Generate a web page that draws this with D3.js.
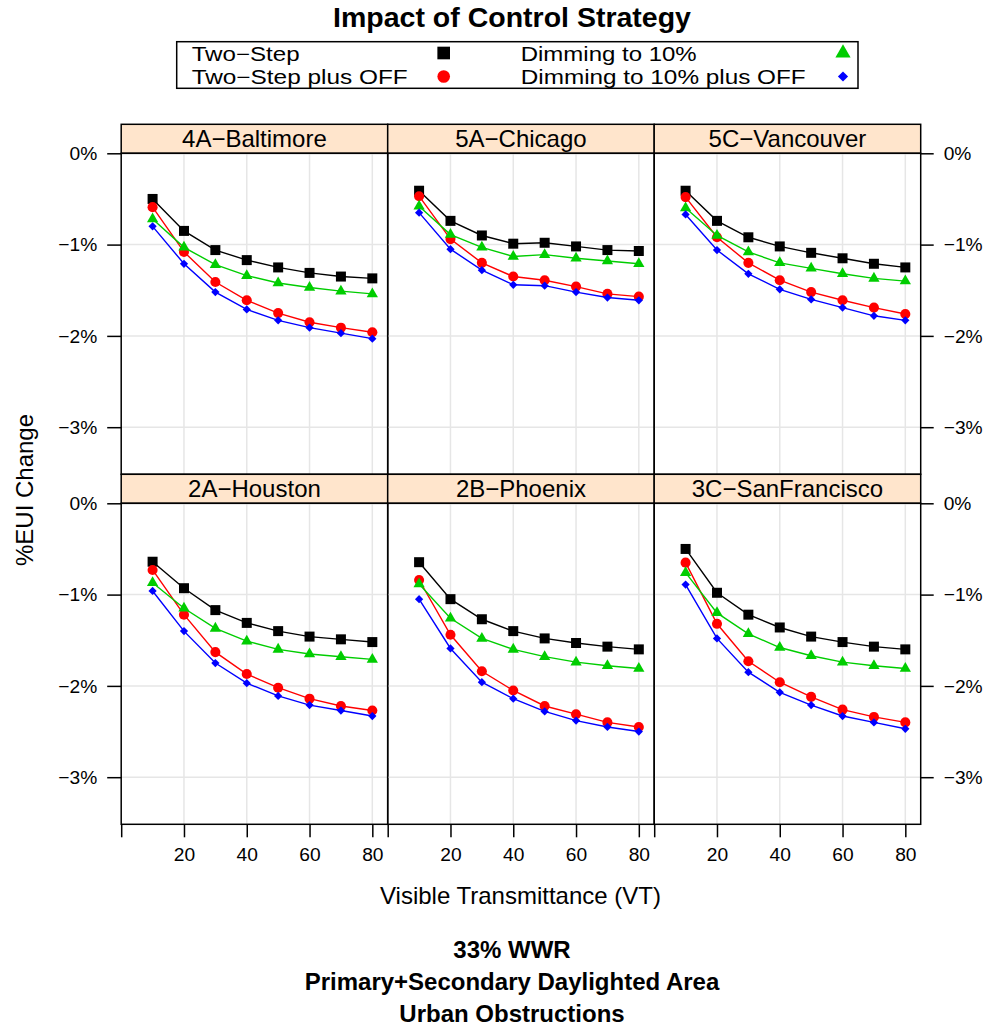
<!DOCTYPE html>
<html>
<head>
<meta charset="utf-8">
<script src="https://cdn.jsdelivr.net/npm/d3@7"></script>
<style>
  html, body { margin: 0; padding: 0; background: #fff; }
  svg { display: block; font-family: "Liberation Sans", Arial, Helvetica, sans-serif; }
</style>
</head>
<body>
<svg id="chart" width="988" height="1026"></svg>
<script>
// Visible transmittance levels (x axis)
const vt = [10, 20, 30, 40, 50, 60, 70, 80];
const xTicks = [0, 20, 40, 60, 80];
const yTicks = [0, -1, -2, -3];

// Climate zones / locations, in panel order (top row then bottom row)
const locations = ["4A\u2212Baltimore", "5A\u2212Chicago", "5C\u2212Vancouver",
                   "2A\u2212Houston", "2B\u2212Phoenix", "3C\u2212SanFrancisco"];

// Control strategies (legend order)
const strategies = ["Two\u2212Step", "Two\u2212Step plus OFF", "Dimming to 10%", "Dimming to 10% plus OFF"];

// % EUI change per location, one row per location, one value per VT level
const twoStep = [
  [-0.50, -0.85, -1.06, -1.17, -1.25, -1.31, -1.35, -1.37],
  [-0.41, -0.74, -0.90, -0.99, -0.98, -1.02, -1.06, -1.07],
  [-0.41, -0.74, -0.92, -1.02, -1.09, -1.15, -1.21, -1.25],
  [-0.64, -0.93, -1.17, -1.31, -1.40, -1.46, -1.49, -1.52],
  [-0.645, -1.05, -1.27, -1.40, -1.48, -1.53, -1.57, -1.60],
  [-0.50, -0.98, -1.22, -1.36, -1.46, -1.52, -1.57, -1.60]
];
const twoStepOff = [
  [-0.59, -1.08, -1.41, -1.61, -1.75, -1.85, -1.91, -1.96],
  [-0.47, -0.94, -1.20, -1.35, -1.39, -1.46, -1.54, -1.57],
  [-0.48, -0.92, -1.20, -1.39, -1.52, -1.61, -1.69, -1.76],
  [-0.73, -1.22, -1.63, -1.87, -2.02, -2.14, -2.22, -2.27],
  [-0.84, -1.44, -1.84, -2.05, -2.22, -2.31, -2.40, -2.45],
  [-0.65, -1.32, -1.73, -1.96, -2.12, -2.26, -2.34, -2.40]
];
const dimming = [
  [-0.72, -1.03, -1.22, -1.34, -1.42, -1.47, -1.51, -1.54],
  [-0.58, -0.89, -1.03, -1.13, -1.11, -1.15, -1.18, -1.21],
  [-0.60, -0.90, -1.08, -1.20, -1.26, -1.32, -1.37, -1.40],
  [-0.87, -1.15, -1.37, -1.51, -1.60, -1.65, -1.68, -1.71],
  [-0.885, -1.26, -1.48, -1.60, -1.68, -1.74, -1.78, -1.81],
  [-0.76, -1.20, -1.43, -1.58, -1.67, -1.74, -1.78, -1.81]
];
const dimmingOff = [
  [-0.80, -1.21, -1.52, -1.71, -1.83, -1.91, -1.97, -2.03],
  [-0.65, -1.05, -1.28, -1.44, -1.45, -1.52, -1.58, -1.61],
  [-0.67, -1.06, -1.32, -1.49, -1.60, -1.69, -1.78, -1.83],
  [-0.96, -1.40, -1.75, -1.97, -2.11, -2.21, -2.27, -2.33],
  [-1.05, -1.59, -1.96, -2.14, -2.28, -2.38, -2.45, -2.50],
  [-0.89, -1.48, -1.85, -2.07, -2.21, -2.33, -2.40, -2.47]
];

const seriesValues = [twoStep, twoStepOff, dimming, dimmingOff];
const seriesColors = ["#000000", "#ff0000", "#00cd00", "#0000ff"];

// ---- layout ----
const svg = d3.select("#chart");
const cols = 3, rows = 2;
const left = 121.2, panelW = 266.5;
const top0 = 124.3, stripH = 29, panelH = 321;
const font = "Liberation Sans, Arial, sans-serif";

const x = d3.scaleLinear().domain([0, 84.9]).range([0, panelW]);
const y = d3.scaleLinear().domain([0, -3.516]).range([0, panelH]);

// symbol generators: square, circle, triangle, diamond
const symbolTypes = [d3.symbolSquare, d3.symbolCircle, d3.symbolTriangle, d3.symbolSquare];
const panelSizes = [100, 80, 55, 34];
const keySizes = [160, 125, 100, 52];
function symbolPath(i, size) {
  return d3.symbol().type(symbolTypes[i]).size(size)();
}
function symbolTransform(i, px, py) {
  return `translate(${px},${py})` + (i === 3 ? " rotate(45)" : "");
}

const fmtPct = d => (d < 0 ? "\u2212" + Math.abs(d) : d) + "%";

locations.forEach((loc, p) => {
  const c = p % cols, r = Math.floor(p / cols);
  const px = left + c * panelW;
  const stripTop = top0 + r * (stripH + panelH);
  const py = stripTop + stripH;

  // strip
  svg.append("rect")
    .attr("x", px).attr("y", stripTop).attr("width", panelW).attr("height", stripH)
    .attr("fill", "#ffe5cc").attr("stroke", "#000").attr("stroke-width", 1.5);
  svg.append("text")
    .attr("x", px + panelW / 2).attr("y", stripTop + 23)
    .attr("text-anchor", "middle").attr("font-size", 24).attr("fill", "#000")
    .text(loc);

  const g = svg.append("g").attr("transform", `translate(${px},${py})`);

  // reference grid
  g.selectAll("line.vg").data(xTicks.slice(1)).join("line")
    .attr("x1", d => x(d)).attr("x2", d => x(d)).attr("y1", 0).attr("y2", panelH)
    .attr("stroke", "#e6e6e6").attr("stroke-width", 1.5);
  g.selectAll("line.hg").data(yTicks.slice(1)).join("line")
    .attr("x1", 0).attr("x2", panelW).attr("y1", d => y(d)).attr("y2", d => y(d))
    .attr("stroke", "#e6e6e6").attr("stroke-width", 1.5);

  // series: lines then points
  seriesValues.forEach((vals, s) => {
    const pts = vt.map((v, k) => [v, vals[p][k]]);
    g.append("path")
      .datum(pts)
      .attr("fill", "none").attr("stroke", seriesColors[s]).attr("stroke-width", 1.4)
      .attr("d", d3.line().x(d => x(d[0])).y(d => y(d[1])));
    g.selectAll(null).data(pts).join("path")
      .attr("d", symbolPath(s, panelSizes[s]))
      .attr("transform", d => symbolTransform(s, x(d[0]), y(d[1])))
      .attr("fill", seriesColors[s]);
  });

  // frame
  g.append("rect").attr("width", panelW).attr("height", panelH)
    .attr("fill", "none").attr("stroke", "#000").attr("stroke-width", 1.5);

  // left axis on first column
  if (c === 0) {
    const ax = g.append("g").call(d3.axisLeft(y).tickValues(yTicks).tickSize(14).tickPadding(10).tickFormat(fmtPct));
    ax.select(".domain").remove();
    ax.selectAll("line").attr("stroke-width", 1.5);
    ax.selectAll("text").attr("font-size", 19.2).attr("font-family", font).attr("fill", "#000");
  }
  // right axis on last column
  if (c === cols - 1) {
    const ax = g.append("g").attr("transform", `translate(${panelW},0)`)
      .call(d3.axisRight(y).tickValues(yTicks).tickSize(13).tickPadding(10).tickFormat(fmtPct));
    ax.select(".domain").remove();
    ax.selectAll("line").attr("stroke-width", 1.5);
    ax.selectAll("text").attr("font-size", 19.2).attr("font-family", font).attr("fill", "#000");
  }
  // bottom axis on bottom row
  if (r === rows - 1) {
    const ax = g.append("g").attr("transform", `translate(0,${panelH})`)
      .call(d3.axisBottom(x).tickValues(xTicks).tickSize(13).tickPadding(10)
        .tickFormat(d => d === 0 ? "" : d));
    ax.select(".domain").remove();
    ax.selectAll("line").attr("stroke-width", 1.5);
    ax.selectAll("text").attr("font-size", 19.2).attr("font-family", font).attr("fill", "#000");
  }
});

// ---- titles ----
svg.append("text").attr("x", 512).attr("y", 27).attr("text-anchor", "middle")
  .attr("font-size", 28.5).attr("font-weight", "bold").text("Impact of Control Strategy");

svg.append("text").attr("x", 520.5).attr("y", 904).attr("text-anchor", "middle")
  .attr("font-size", 24).text("Visible Transmittance (VT)");

svg.append("text").attr("transform", "translate(33,490) rotate(-90)")
  .attr("text-anchor", "middle").attr("font-size", 24).text("%EUI Change");

const subLines = ["33% WWR", "Primary+Secondary Daylighted Area", "Urban Obstructions"];
svg.selectAll("text.sub").data(subLines).join("text")
  .attr("class", "sub")
  .attr("x", 512).attr("y", (d, i) => 958 + i * 32)
  .attr("text-anchor", "middle").attr("font-size", 24).attr("font-weight", "bold")
  .text(d => d);

// ---- key ----
const key = svg.append("g");
key.append("rect").attr("x", 176.7).attr("y", 41.7).attr("width", 858 - 176.7).attr("height", 46.6)
  .attr("fill", "#fff").attr("stroke", "#000").attr("stroke-width", 1.5);
const keyText = [191.7, 520.7];
const keySym = [443.7, 843];
const rowBase = [61.3, 84];
const rowSym = [53, 76.5];
// key labels are compact: slightly smaller type, widened to the key's column widths
const keyWidths = [108, 216, 176, 285];
strategies.forEach((s, i) => {
  const col = Math.floor(i / 2), row = i % 2;
  key.append("text").attr("x", keyText[col]).attr("y", rowBase[row])
    .attr("font-size", 20)
    .attr("textLength", keyWidths[i]).attr("lengthAdjust", "spacingAndGlyphs")
    .text(s);
  key.append("path")
    .attr("d", symbolPath(i, keySizes[i]))
    .attr("transform", symbolTransform(i, keySym[col], rowSym[row]))
    .attr("fill", seriesColors[i]);
});
</script>
</body>
</html>
